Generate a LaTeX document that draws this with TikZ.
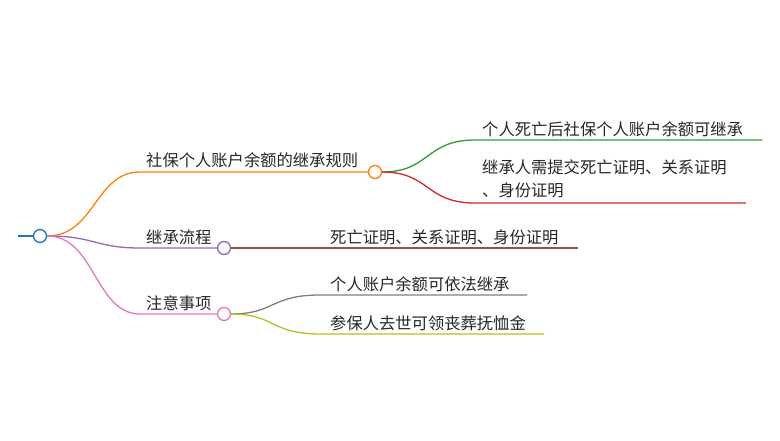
\documentclass[tikz,border=0pt]{standalone}
\usepackage{fontspec}
\setmainfont{Noto Sans CJK SC}
\definecolor{cblue}{HTML}{1F77B4}
\definecolor{corange}{HTML}{FF7F0E}
\definecolor{cgreen}{HTML}{2CA02C}
\definecolor{cred}{HTML}{D62728}
\definecolor{cpurple}{HTML}{9467BD}
\definecolor{cbrown}{HTML}{8C564B}
\definecolor{cpink}{HTML}{E377C2}
\definecolor{cgray}{HTML}{7F7F7F}
\definecolor{colive}{HTML}{BCBD22}
\begin{document}
\begin{tikzpicture}[x=1pt,y=-1pt,
  lbl/.style={anchor=south west,inner sep=0pt,font=\fontsize{16.3}{23}\selectfont,text=black!85},
  dot/.style={circle,draw,line width=1.3pt,fill=white,minimum size=13pt,inner sep=0pt},
  br/.style={line width=1.3pt}]
\useasboundingbox (0,0) rectangle (780,441);
\coordinate (l0) at (18,236);
\node[dot,draw=cblue] (root) at (40,236) {};
\draw[br,cblue] (l0) -- (root.west);
% branch 1
\coordinate (b1) at (140,172);
\draw[br,corange] (root.east) .. controls (95,236) and (95,172) .. (b1) -- (368,172);
\node[dot,draw=corange] (n1) at (375,172) {};
\node[lbl] (t1) at (146,168) {社保个人账户余额的继承规则};
\coordinate (s1) at (475,140);\coordinate (s1e) at (762,140);
\draw[br,cgreen] (n1.east) .. controls (430,172) and (425,140) .. (s1) -- (s1e);
\node[lbl] (t11) at (482,137) {个人死亡后社保个人账户余额可继承};
\coordinate (s2) at (475,203);\coordinate (s2e) at (746,203);
\draw[br,cred] (n1.east) .. controls (430,172) and (425,203) .. (s2) -- (s2e);
\node[lbl,align=left,anchor=north west] (t12) at (482,159) {继承人需提交死亡证明、关系证明\\、身份证明};
% branch 2
\coordinate (b2) at (140,248);
\draw[br,cpurple] (root.east) .. controls (95,236) and (95,248) .. (b2) -- (217,248);
\node[dot,draw=cpurple] (n2) at (224,248) {};
\node[lbl] (t2) at (146,245) {继承流程};
\coordinate (s3e) at (578,248);
\draw[br,cbrown] (n2.east) -- (s3e);
\node[lbl] (t21) at (330,245) {死亡证明、关系证明、身份证明};
% branch 3
\coordinate (b3) at (140,314);
\draw[br,cpink] (root.east) .. controls (95,236) and (95,314) .. (b3) -- (217,314);
\node[dot,draw=cpink] (n3) at (224,314) {};
\node[lbl] (t3) at (146,311) {注意事项};
\coordinate (s4) at (320,295);\coordinate (s4e) at (527,295);
\draw[br,cgray] (n3.east) .. controls (275,314) and (270,295) .. (s4) -- (s4e);
\node[lbl] (t31) at (330,292) {个人账户余额可依法继承};
\coordinate (s5) at (320,334);\coordinate (s5e) at (544,334);
\draw[br,colive] (n3.east) .. controls (275,314) and (270,334) .. (s5) -- (s5e);
\node[lbl] (t32) at (330,331) {参保人去世可领丧葬抚恤金};
\end{tikzpicture}
\end{document}
